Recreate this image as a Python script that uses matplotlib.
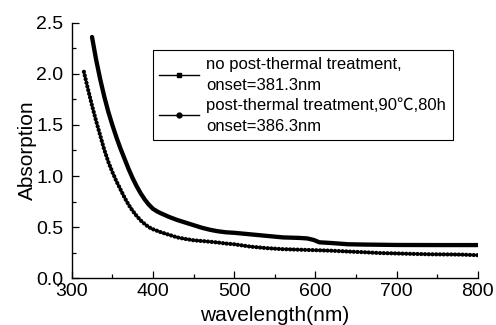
import numpy as np
import matplotlib
matplotlib.use('Agg')
import matplotlib.pyplot as plt
from matplotlib.lines import Line2D
from matplotlib.ticker import MultipleLocator, FormatStrFormatter

plt.rcParams['font.family'] = ['Liberation Sans', 'Noto Sans CJK SC', 'DejaVu Sans']

# sample without post-thermal treatment (onset 381.3 nm)
wl_raw = [325, 330, 335, 340, 345, 350, 355, 360, 365, 370, 375, 380, 385, 390, 395,
          400, 405, 410, 420, 430, 440, 450, 460, 470, 480, 490, 500, 520, 540, 560,
          580, 590, 598, 605, 620, 640, 660, 700, 750, 800]
abs_raw = [2.36, 2.14, 1.95, 1.78, 1.63, 1.50, 1.38, 1.27, 1.17, 1.07, 0.98, 0.90, 0.83, 0.77, 0.72,
           0.68, 0.655, 0.635, 0.60, 0.57, 0.545, 0.52, 0.495, 0.475, 0.46, 0.45, 0.445, 0.43, 0.415, 0.40,
           0.395, 0.39, 0.375, 0.352, 0.345, 0.333, 0.33, 0.326, 0.325, 0.325]

# sample after post-thermal treatment 90C, 80h (onset 386.3 nm)
wl_ann = [315, 320, 325, 330, 335, 340, 345, 350, 355, 360, 365, 370, 375, 380, 385,
          390, 395, 400, 410, 420, 430, 440, 450, 460, 470, 480, 490, 500, 520, 540,
          560, 580, 600, 620, 640, 660, 680, 700, 740, 780, 800]
abs_ann = [2.02, 1.85, 1.69, 1.54, 1.40, 1.26, 1.14, 1.04, 0.95, 0.87, 0.79, 0.72, 0.66, 0.61, 0.565,
           0.53, 0.50, 0.48, 0.45, 0.425, 0.40, 0.385, 0.372, 0.365, 0.358, 0.35, 0.34, 0.333, 0.31, 0.295,
           0.285, 0.28, 0.275, 0.27, 0.262, 0.255, 0.247, 0.243, 0.235, 0.232, 0.226]

lab_raw = 'no post-thermal treatment,\nonset=381.3nm'
lab_ann = 'post-thermal treatment,90\u2103,80h\nonset=386.3nm'

fig = plt.figure(figsize=(4.96, 3.25), dpi=100)
ax = fig.add_axes([0.1446, 0.1437, 0.8185, 0.7865])

ax.plot(wl_raw, abs_raw, color='black', lw=3.1, solid_capstyle='round',
        solid_joinstyle='round')
ax.plot(wl_ann, abs_ann, color='black', lw=3.0, linestyle=(0, (0.05, 0.85)),
        dash_capstyle='round')

ax.set_xlim(300, 800)
ax.set_ylim(0, 2.5)
ax.xaxis.set_major_locator(MultipleLocator(100))
ax.xaxis.set_minor_locator(MultipleLocator(50))
ax.yaxis.set_major_locator(MultipleLocator(0.5))
ax.yaxis.set_minor_locator(MultipleLocator(0.25))
ax.yaxis.set_major_formatter(FormatStrFormatter('%.1f'))

for s in ['top', 'right']:
    ax.spines[s].set_visible(False)
ax.spines['left'].set_linewidth(1.0)
ax.spines['bottom'].set_linewidth(1.0)
ax.tick_params(which='major', direction='in', length=5, width=0.9, labelsize=14)
ax.tick_params(which='minor', direction='in', length=3, width=0.9)
ax.tick_params(axis='x', which='major', pad=3.5)
ax.tick_params(axis='y', which='major', pad=6)

ax.set_xlabel('wavelength(nm)', fontsize=15, labelpad=4)
ax.set_ylabel('Absorption', fontsize=15, labelpad=-0.5)

h1 = Line2D([], [], color='black', lw=1.0, marker='s', markersize=3)
h2 = Line2D([], [], color='black', lw=1.0, marker='o', markersize=3.5)
leg = ax.legend([h1, h2], [lab_raw, lab_ann], loc='upper left',
                bbox_to_anchor=(0.1995, 0.893), borderaxespad=0, fontsize=12,
                fancybox=False, edgecolor='black', framealpha=1,
                handlelength=2.4, handletextpad=0.4, labelspacing=0.25, borderpad=0.4)
leg.get_frame().set_linewidth(0.8)
for t in leg.get_texts():
    t.set_linespacing(1.5)

fig.savefig('out.png', dpi=100)
